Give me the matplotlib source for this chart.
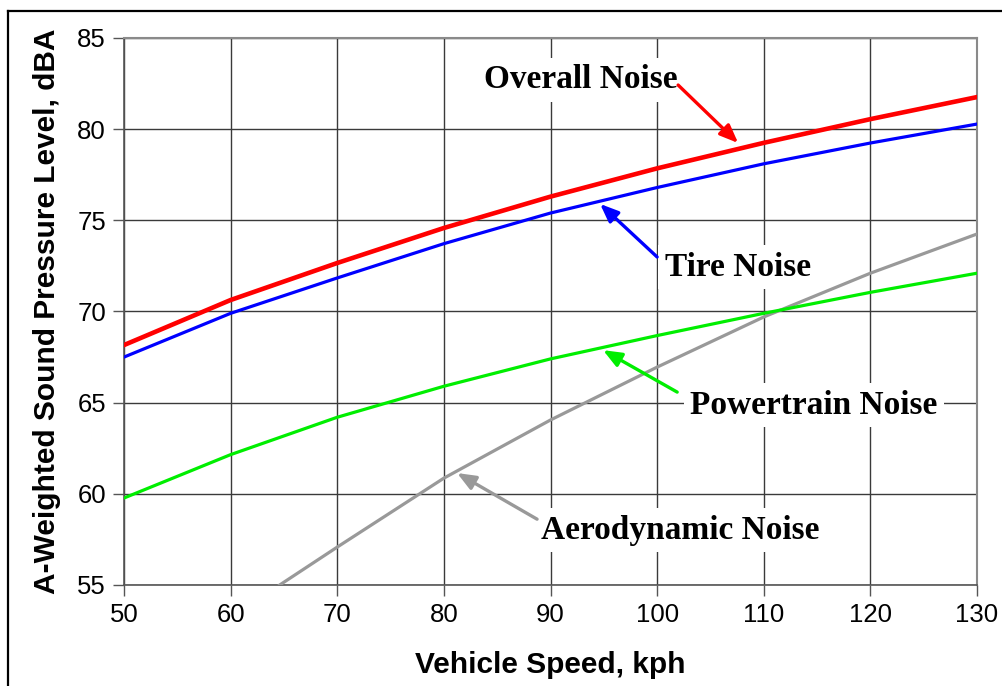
import matplotlib
matplotlib.use("Agg")
import matplotlib.pyplot as plt
from matplotlib.lines import Line2D

speed = [50, 60, 70, 80, 90, 100, 110, 120, 130]
overall = [68.16, 70.63, 72.66, 74.58, 76.3, 77.85, 79.25, 80.55, 81.76]
tire = [67.5, 69.9, 71.84, 73.72, 75.4, 76.8, 78.1, 79.24, 80.28]
powertrain = [59.77, 62.15, 64.2, 65.9, 67.4, 68.68, 69.9, 71.05, 72.1]
aero_speed = [64.6, 70, 80, 90, 100, 110, 120, 130]
aero = [55.0, 57.08, 60.86, 64.05, 66.95, 69.7, 72.1, 74.25]

x_ticks = [50, 60, 70, 80, 90, 100, 110, 120, 130]
y_ticks = [55, 60, 65, 70, 75, 80, 85]

W, H = 1002, 686
fig = plt.figure(figsize=(W / 100, H / 100), dpi=100)
ax = fig.add_axes([124 / W, 1 - 585 / H, (977 - 124) / W, (585 - 38) / H])

# outer frame (top and left edges visible)
fig.add_artist(Line2D([8 / W, 1.0], [1 - 11 / H, 1 - 11 / H], color="black", lw=1.6,
                      transform=fig.transFigure))
fig.add_artist(Line2D([8 / W, 8 / W], [0, 1 - 11 / H], color="black", lw=1.6,
                      transform=fig.transFigure))

ax.plot(aero_speed, aero, color="#999999", lw=2.3, zorder=3)
ax.plot(speed, powertrain, color="#00ee00", lw=2.3, zorder=3)
ax.plot(speed, tire, color="#0000ff", lw=2.3, zorder=4)
ax.plot(speed, overall, color="#ff0000", lw=3.3, zorder=5)

ax.set_xlim(50, 130)
ax.set_ylim(55, 85)
ax.set_xticks(x_ticks)
ax.set_yticks(y_ticks)
ax.grid(True, color="#3a3a3a", lw=1.0, zorder=1)
ax.set_axisbelow(True)
for s in ["top", "right"]:
    ax.spines[s].set_color("#8a8a8a")
    ax.spines[s].set_linewidth(1.5)
for s in ["left", "bottom"]:
    ax.spines[s].set_color("#555555")
    ax.spines[s].set_linewidth(1.2)
ax.tick_params(direction="out", length=8, width=1, color="#555555",
               labelsize=18.5, pad=5)
for lab in ax.get_xticklabels() + ax.get_yticklabels():
    lab.set_family("Liberation Sans")

ax.set_xlabel("Vehicle Speed, kph", fontsize=21.5, fontweight="bold",
              family="Liberation Sans", labelpad=17)
ax.set_ylabel("A-Weighted Sound Pressure Level, dBA", fontsize=21.5,
              fontweight="bold", family="Liberation Sans", labelpad=12)

tfont = dict(fontsize=24, fontweight="bold", family="Liberation Serif",
             ha="center", va="center", zorder=6)
box = dict(boxstyle="square,pad=0.2", fc="white", ec="none")

texts = ["Overall Noise", "Tire Noise", "Powertrain Noise", "Aerodynamic Noise"]
text_pos = [(92.87, 82.7), (107.6, 72.44), (114.7, 64.87), (102.2, 58.0)]
arrow_start = [(101.97, 82.42), (100.0, 72.99), (101.88, 65.58), (88.74, 58.61)]
arrow_tip = [(107.6, 79.24), (94.65, 75.9), (94.93, 67.88), (81.24, 61.14)]
colors = ["#ff0000", "#0000ff", "#00ee00", "#999999"]

for t, tp, st, tip, c in zip(texts, text_pos, arrow_start, arrow_tip, colors):
    ax.text(tp[0], tp[1], t, bbox=box, **tfont)
    ax.annotate("", xy=tip, xytext=st, zorder=7,
                arrowprops=dict(arrowstyle="-|>,head_length=1.1,head_width=0.45",
                                color=c, lw=2.4, shrinkA=0, shrinkB=0))

fig.savefig("out.png", dpi=100, facecolor="white")
